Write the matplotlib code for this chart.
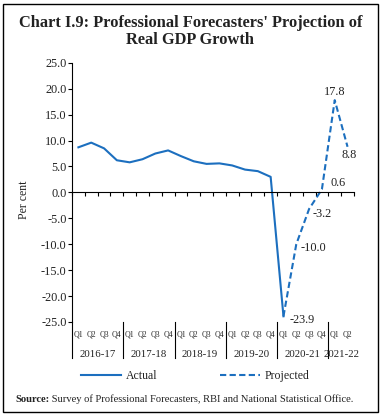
import matplotlib
matplotlib.use('Agg')
from matplotlib import pyplot as plt
from matplotlib import transforms as mtransforms
from matplotlib.patches import Rectangle
import numpy as np

#####

years = ['2016-17', '2017-18', '2018-19', '2019-20', '2020-21', '2021-22']
quarters = ['Q1', 'Q2', 'Q3', 'Q4']
n_quarters = [4, 4, 4, 4, 4, 2]

actual = [8.7, 9.6, 8.5, 6.2, 5.8, 6.4, 7.5, 8.1, 7.0, 6.0,
          5.5, 5.6, 5.2, 4.4, 4.1, 3.0, -23.9]
projected = [-23.9, -10.0, -3.2, 0.6, 17.8, 8.8]
proj_start = 16

yticks = [-25, -20, -15, -10, -5, 0, 5, 10, 15, 20, 25]

#####

blue = '#1c6fbf'
txtcol = '#222222'
plt.rcParams['font.family'] = ['Liberation Serif', 'DejaVu Serif']

fig = plt.figure(figsize=(3.81, 4.16), dpi=100)
ax = fig.add_axes([0.189, 0.226, 0.740, 0.623])

xa = np.arange(len(actual))
xp = np.arange(proj_start, proj_start + len(projected))
ax.plot(xa, actual, color=blue, lw=1.5, label='Actual')
ax.plot(xp, projected, color=blue, lw=1.5, ls=(0, (3.0, 1.6)), label='Projected')

# data labels on the projected points (offsets in points)
offs = [(4.3, -3, 'left'), (3, -3, 'left'), (2.5, -3.5, 'left'),
        (6, 4.5, 'left'), (0, 6, 'center'), (1, -6, 'center')]
for x, v, (dx, dy, ha) in zip(xp, projected, offs):
    ax.annotate('%.1f' % v, (x, v), xytext=(dx, dy), textcoords='offset points',
                fontsize=8.8, ha=ha, va='center', color=txtcol)

ax.set_xlim(-0.5, sum(n_quarters) - 0.5)
ax.set_ylim(-25, 25)
ax.set_yticks(yticks)
ax.set_yticklabels(['%.1f' % t for t in yticks], fontsize=8.8, color=txtcol)
ax.tick_params(axis='y', length=3, width=0.8, pad=1)

ax.spines['top'].set_visible(False)
ax.spines['right'].set_visible(False)
ax.spines['bottom'].set_position(('data', 0))
ax.set_xticks(np.arange(-0.5, sum(n_quarters), 1.0))
ax.set_xticklabels([])
ax.tick_params(axis='x', length=3, width=0.8, direction='out')

ax.set_ylabel('Per cent', fontsize=8.5, color=txtcol)
ax.yaxis.set_label_coords(-0.148, 0.47)

# category axis below the plot: quarters, years, separators
trans = mtransforms.blended_transform_factory(ax.transData, ax.transAxes)
start = 0
for yr, nq in zip(years, n_quarters):
    for k in range(nq):
        ax.text(start + k, -0.05, quarters[k], transform=trans, fontsize=5.6,
                ha='center', va='center', color=txtcol)
    ax.text(start + (nq - 1) / 2.0, -0.124, yr, transform=trans, fontsize=7.8,
            ha='center', va='center', color=txtcol)
    ax.plot([start - 0.5, start - 0.5], [0, -0.14], transform=trans, color='black',
            lw=0.8, clip_on=False)
    start += nq

leg = fig.legend(loc='center', bbox_to_anchor=(0.512, 0.096), ncol=2, frameon=False,
                 fontsize=8.5, handlelength=3.4, columnspacing=5.3, handletextpad=0.4)
for t in leg.get_texts():
    t.set_color(txtcol)

fig.text(0.5, 0.924, "Chart I.9: Professional Forecasters' Projection of\nReal GDP Growth",
         ha='center', va='center', fontsize=11.8, fontweight='bold', linespacing=1.05,
         color=txtcol)

src = fig.text(0.04, 0.04, 'Source:', fontsize=7.6, fontweight='bold', va='center', color=txtcol)
ax.annotate(' Survey of Professional Forecasters, RBI and National Statistical Office.',
            xy=(1, 0.5), xycoords=src, va='center', ha='left', fontsize=7.6,
            color=txtcol, annotation_clip=False)

fig.patches.append(Rectangle((0.009, 0.009), 0.982, 0.982, transform=fig.transFigure,
                             fill=False, edgecolor='black', lw=1.0))

fig.savefig('out.png', dpi=100)
